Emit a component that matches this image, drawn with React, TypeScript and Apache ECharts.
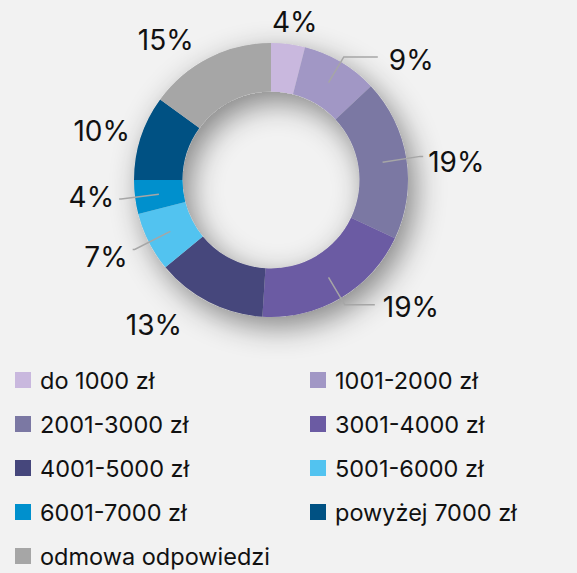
import React, { useEffect, useRef } from "react";
import * as echarts from "echarts";

const categories = [
  "do 1000 zł",
  "1001-2000 zł",
  "2001-3000 zł",
  "3001-4000 zł",
  "4001-5000 zł",
  "5001-6000 zł",
  "6001-7000 zł",
  "powyżej 7000 zł",
  "odmowa odpowiedzi",
];
const values = [4, 9, 19, 19, 13, 7, 4, 10, 15];
const colors = [
  "#c9b8de",
  "#a197c5",
  "#7b78a3",
  "#6b5ba3",
  "#46477c",
  "#52c3f0",
  "#0090cd",
  "#005183",
  "#a6a6a6",
];
// label line style per slice: [show, length, length2]
const lineCfg: [boolean, number, number][] = [
  [false, 46, 0],
  [true, 30, 34],
  [true, 38, 3],
  [true, 32, 30],
  [false, 50, 10],
  [true, 40, 2],
  [true, 38, 2],
  [false, 30, 0],
  [false, 44, 1],
];
// small text nudges per slice label: [dx, dy]
const labelNudge: [number, number][] = [
  [-24, 0],
  [6, 3],
  [0, 6],
  [3, 2],
  [0, 0],
  [0, 8],
  [0, -2],
  [0, -5],
  [0, 0],
];

const FONT = "Inter, 'Noto Sans', sans-serif";

export default function App() {
  const ref = useRef<HTMLDivElement>(null);
  useEffect(() => {
    if (!ref.current) return;
    const chart = echarts.init(ref.current, undefined, { renderer: "svg" });
    const center = [271, 180];
    const leftIdx = [0, 2, 4, 6, 8];
    const rightIdx = [1, 3, 5, 7];
    const legendBase = {
      orient: "vertical" as const,
      top: 368,
      padding: 0,
      itemWidth: 16,
      itemHeight: 16,
      itemGap: 20,
      icon: "rect",
      textStyle: { fontFamily: FONT, fontSize: 23.5, color: "#111", padding: [0, 0, 0, 4] },
    };
    chart.setOption({
      animation: false,
      backgroundColor: "#f2f2f2",
      textStyle: { fontFamily: FONT },
      legend: [
        { ...legendBase, left: 15, data: leftIdx.map((i) => categories[i]) },
        { ...legendBase, left: 310, data: rightIdx.map((i) => categories[i]) },
      ],
      series: [
        {
          type: "pie",
          name: "ring",
          center,
          radius: [88.5, 137],
          silent: true,
          label: { show: false },
          labelLine: { show: false },
          startAngle: 90,
          data: categories.map((c, i) => ({
            name: c,
            value: values[i],
            itemStyle: { color: colors[i] },
          })),
          z: 2,
        },
        {
          type: "pie",
          name: "shadow",
          center,
          radius: [88.5, 137],
          silent: true,
          label: { show: false },
          labelLine: { show: false },
          data: [
            {
              name: "_shadow",
              value: 1,
              itemStyle: {
                color: "#d0d0d0",
                shadowBlur: 30,
                shadowColor: "rgba(0,0,0,0.45)",
                shadowOffsetX: 7,
                shadowOffsetY: 10,
              },
            },
          ],
          z: 1,
        },
        {
          type: "pie",
          name: "labels",
          center,
          radius: [88.5, 113],
          silent: true,
          startAngle: 90,
          avoidLabelOverlap: false,
          itemStyle: { color: "rgba(0,0,0,0)" },
          data: categories.map((c, i) => ({
            name: c,
            value: values[i],
            labelLine: {
              show: lineCfg[i][0],
              length: lineCfg[i][1],
              length2: lineCfg[i][2],
            },
          })),
          label: {
            show: true,
            position: "outside",
            formatter: "{c}%",
            fontFamily: FONT,
            fontSize: 28,
            color: "#111",
          },
          labelLine: {
            lineStyle: { color: "#a6a6a6", width: 1.5 },
          },
          labelLayout: (p: any) => {
            const n = labelNudge[p.dataIndex] || [0, 0];
            return { dx: n[0], dy: n[1] };
          },
          z: 3,
        },
      ],
    });
    return () => chart.dispose();
  }, []);
  return (
    <div
      ref={ref}
      style={{ position: "fixed", left: 0, top: 0, width: 577, height: 573 }}
    />
  );
}
